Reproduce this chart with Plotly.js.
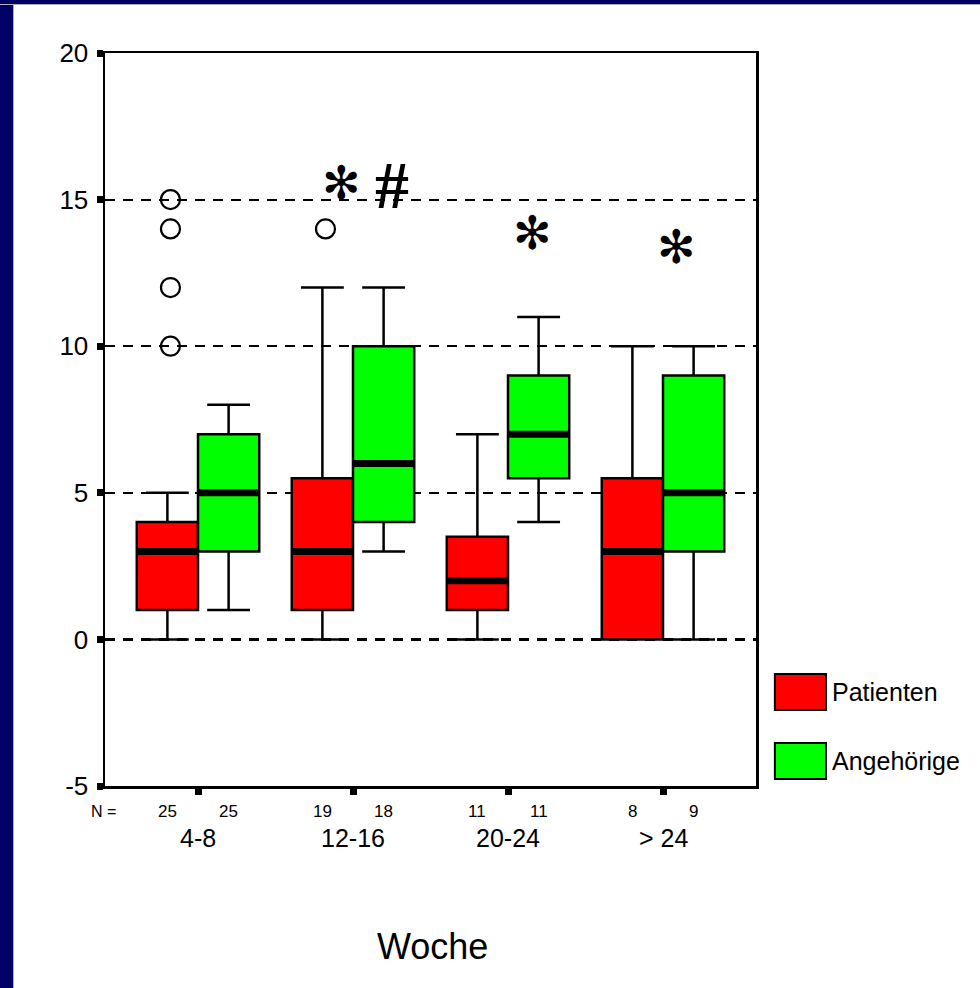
<!DOCTYPE html>
<html>
<head>
<meta charset="utf-8">
<script src="https://cdn.plot.ly/plotly-3.0.1.min.js"></script>
<style>
  html, body { margin: 0; padding: 0; background: #ffffff; width: 980px; height: 988px; overflow: hidden; }
  #chart { position: absolute; left: 14px; top: 5px; width: 966px; height: 983px; background: #fff; }
  .navy { position: absolute; background: #000066; }
  #navyLeft { left: 0; top: 0; width: 13px; height: 988px; border-right: 1px solid #b0b0b0; }
  #navyTop { left: 0; top: 0; width: 980px; height: 4px; border-bottom: 1px solid #b0b0b0; }
</style>
</head>
<body>
<div id="chart"></div>
<div id="navyLeft" class="navy"></div>
<div id="navyTop" class="navy"></div>
<script>
// ---- data ----
const categories = ['4-8', '12-16', '20-24', '> 24'];
const nPatienten  = [25, 19, 11, 8];
const nAngehoerige = [25, 18, 11, 9];

const patMin = [0, 0, 0, 0];
const patQ1  = [1, 1, 1, 0];
const patMed = [3, 3, 2, 3];
const patQ3  = [4, 5.5, 3.5, 5.5];
const patMax = [5, 12, 7, 10];

const angMin = [1, 3, 4, 0];
const angQ1  = [3, 4, 5.5, 3];
const angMed = [5, 6, 7, 5];
const angQ3  = [7, 10, 9, 9];
const angMax = [8, 12, 11, 10];

// outliers (Patienten): category index and value
const patOutCat = [0, 0, 0, 0, 1];
const patOutVal = [15, 14, 12, 10, 14];

// y tick labels
const yTickVals = [-5, 0, 5, 10, 15, 20];
const yTickText = ['-5', '0', '5', '10', '15', '20'];

// significance markers
const sigText = ['\u273B', '#', '\u273B', '\u273B'];
const sigCat  = [0.923, 1.252, 2.161, 3.09];
const sigVal  = [15.55, 15.5, 13.85, 13.37];

// ---- geometry / style ----
const boxW = 0.395;
const off = boxW / 2;
const RED = '#ff0000', GREEN = '#00ff00';
const pos = (arr, d) => arr.map((_, i) => i + d);

function medianLines(med, d) {
  const xs = [], ys = [];
  med.forEach((m, i) => { xs.push(i + d - boxW / 2, i + d + boxW / 2, null); ys.push(m, m, null); });
  return { x: xs, y: ys };
}

const boxCommon = {
  type: 'box', width: boxW, whiskerwidth: 0.7, boxpoints: false,
  line: { color: '#000', width: 2.5 }, hoverinfo: 'skip', showlegend: false
};

const tPat = Object.assign({}, boxCommon, {
  name: 'Patienten', x: pos(categories, -off),
  lowerfence: patMin, q1: patQ1, median: patMed, q3: patQ3, upperfence: patMax,
  fillcolor: RED
});
const tAng = Object.assign({}, boxCommon, {
  name: 'Angehörige', x: pos(categories, off),
  lowerfence: angMin, q1: angQ1, median: angMed, q3: angQ3, upperfence: angMax,
  fillcolor: GREEN
});

const mp = medianLines(patMed, -off), ma = medianLines(angMed, off);
const tMed = {
  type: 'scatter', mode: 'lines', x: mp.x.concat(ma.x), y: mp.y.concat(ma.y),
  line: { color: '#000', width: 7 }, showlegend: false, hoverinfo: 'skip'
};
const tOut = {
  type: 'scatter', mode: 'markers', x: patOutCat.map(c => c - off + 0.02), y: patOutVal,
  marker: { symbol: 'circle-open', size: 19, color: '#000', line: { width: 2.2, color: '#000' } },
  showlegend: false, hoverinfo: 'skip'
};

const FONT = 'Liberation Sans, Arial, sans-serif';
const ann = [];
// N row
ann.push({ xref: 'paper', yref: 'paper', x: -0.003, y: 0, yshift: -25, text: 'N =', showarrow: false,
           xanchor: 'center', yanchor: 'middle', font: { family: FONT, size: 16, color: '#000' } });
categories.forEach((c, i) => {
  ann.push({ xref: 'x', yref: 'paper', x: i - off, y: 0, yshift: -25, text: String(nPatienten[i]), showarrow: false,
             xanchor: 'center', yanchor: 'middle', font: { family: FONT, size: 17, color: '#000' } });
  ann.push({ xref: 'x', yref: 'paper', x: i + off, y: 0, yshift: -25, text: String(nAngehoerige[i]), showarrow: false,
             xanchor: 'center', yanchor: 'middle', font: { family: FONT, size: 17, color: '#000' } });
  ann.push({ xref: 'x', yref: 'paper', x: i, y: 0, yshift: -52, text: c, showarrow: false,
             xanchor: 'center', yanchor: 'middle', font: { family: FONT, size: 25, color: '#000' } });
});
// axis title
ann.push({ xref: 'paper', yref: 'paper', x: (432 - 105) / 651, y: 0, yshift: -160, text: 'Woche', showarrow: false,
           xanchor: 'center', yanchor: 'middle', font: { family: FONT, size: 36, color: '#000' } });
// significance markers
sigText.forEach((t, i) => {
  const isHash = t === '#';
  ann.push({ xref: 'x', yref: 'y', x: sigCat[i], y: sigVal[i], text: t, showarrow: false,
             xanchor: 'center', yanchor: 'middle',
             font: isHash ? { family: 'Liberation Serif, Times New Roman, serif', size: 68, color: '#000', weight: 'bold' }
                          : { family: 'DejaVu Sans, sans-serif', size: 46, color: '#000' } });
});
// custom legend
const legendItems = [
  { label: 'Patienten', color: RED, y0: 0.1037, y1: 0.1528 },
  { label: 'Angehörige', color: GREEN, y0: 0.0096, y1: 0.0587 }
];
const shapes = [];
legendItems.forEach(it => {
  shapes.push({ type: 'rect', xref: 'paper', yref: 'paper', x0: 1.029, x1: 1.1075, y0: it.y0, y1: it.y1,
                fillcolor: it.color, line: { color: '#000', width: 2 } });
  ann.push({ xref: 'paper', yref: 'paper', x: 1.114, y: (it.y0 + it.y1) / 2, text: it.label, showarrow: false,
             xanchor: 'left', yanchor: 'middle', font: { family: FONT, size: 25, color: '#000' } });
});

const layout = {
  width: 966, height: 983,
  margin: { l: 91, r: 224, t: 48, b: 202 },
  paper_bgcolor: '#ffffff', plot_bgcolor: '#ffffff',
  showlegend: false,
  boxmode: 'overlay',
  font: { family: FONT, color: '#000' },
  xaxis: {
    range: [-0.6, 3.6], tickvals: [0, 1, 2, 3], showticklabels: false,
    ticks: 'outside', ticklen: 6, tickwidth: 7, tickcolor: '#000',
    showline: true, mirror: true, linecolor: '#000', linewidth: 2.5,
    showgrid: false, zeroline: false, fixedrange: true
  },
  yaxis: {
    range: [-5, 20], tickvals: yTickVals, ticktext: yTickText,
    ticks: 'outside', ticklen: 6, tickwidth: 7, tickcolor: '#000',
    tickfont: { family: FONT, size: 26, color: '#000' }, ticklabelstandoff: 3,
    showline: true, mirror: true, linecolor: '#000', linewidth: 2.5,
    showgrid: true, gridcolor: '#000', gridwidth: 2.2, griddash: '10px,8px',
    zeroline: false, fixedrange: true
  },
  shapes: shapes,
  annotations: ann
};

Plotly.newPlot('chart', [tPat, tAng, tMed, tOut], layout, { displayModeBar: false, staticPlot: true });
</script>
</body>
</html>
